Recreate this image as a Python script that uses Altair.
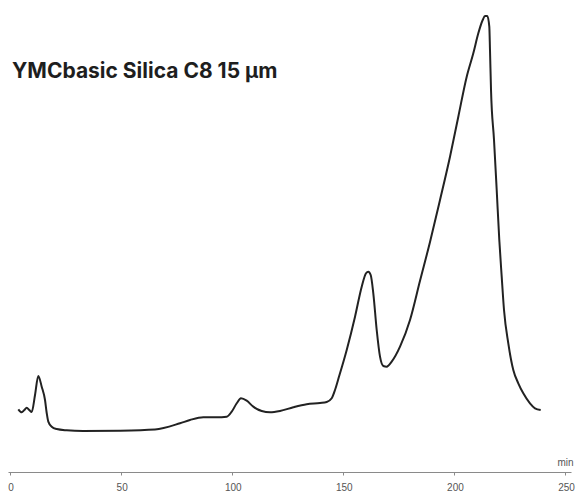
import altair as alt
import pandas as pd

# Retention time (min) and detector signal (arbitrary units)
time_min = [3.94, 5.47, 6.64, 7.72, 8.89, 9.97, 11.46, 12.94, 14.47, 15.96,
            16.72, 17.44, 18.97, 21.22, 25.72, 33.06, 49.71, 65.46, 76.72, 81.22,
            87.2, 93.24, 97.74, 99.99, 102.24, 104.17, 106.74, 109.71, 113.49, 117.23,
            121.73, 127.71, 133.74, 139.73, 142.75, 145.0, 146.48, 147.97, 151.75, 155.49,
            158.5, 160.44, 161.47, 162.55, 163.72, 165.25, 166.74, 168.22, 169.75, 172.0,
            175.74, 180.24, 184.74, 189.24, 193.74, 198.24, 201.98, 205.76, 208.73, 210.98,
            212.96, 213.99, 215.03, 215.93, 216.24, 216.7, 218.05, 219.26, 220.43, 221.51,
            222.55, 224.48, 226.73, 228.98, 231.23, 234.24, 236.49, 239.06]
signal = [5.68, 4.93, 5.5, 6.08, 5.5, 5.0, 9.25, 14.0, 11.33, 8.0,
          4.75, 2.58, 1.33, 0.75, 0.43, 0.25, 0.33, 0.63, 2.18, 3.0,
          3.68, 3.68, 3.83, 5.08, 7.18, 8.43, 7.83, 6.33, 5.25, 4.93,
          5.25, 6.18, 6.93, 7.25, 7.5, 8.43, 10.5, 13.25, 20.5, 28.83,
          36.33, 39.68, 40.08, 39.25, 34.68, 25.5, 18.83, 16.5, 16.33, 17.58,
          21.33, 28.0, 37.8, 47.5, 58.0, 68.83, 78.83, 88.83, 94.68, 99.68,
          103.0, 104.0, 104.0, 101.33, 95.5, 85.5, 73.0, 60.5, 48.0, 38.83,
          30.5, 22.18, 15.5, 12.18, 9.68, 7.18, 5.93, 5.5]
x_ticks = [0, 50, 100, 150, 200, 250]
title_text = "YMCbasic Silica C8 15 µm"

df = pd.DataFrame({"t": time_min, "s": signal})
ticks_df = pd.DataFrame({"t": x_ticks, "label": [str(v) for v in x_ticks]})

x_scale = alt.Scale(domain=[-0.7, 252.7], nice=False, zero=False)
y_scale = alt.Scale(domain=[-10, 108], nice=False, zero=False)

trace = alt.Chart(df).mark_line(
    color="#222222", strokeWidth=2, interpolate="monotone"
).encode(
    x=alt.X(
        "t:Q",
        scale=x_scale,
        axis=alt.Axis(
            values=x_ticks, title="min", grid=False, labels=False,
            domainColor="#8a8a8a", domainWidth=1.2,
            tickColor="#8a8a8a", tickSize=3, tickWidth=1,
            titleColor="#555555", titleFont="Liberation Sans", titleFontSize=10,
            titleFontWeight="normal", titleX=557, titleY=-7,
            titleAlign="center", titleBaseline="alphabetic",
        ),
    ),
    y=alt.Y("s:Q", scale=y_scale, axis=None),
)

# tick labels placed on the shared time scale
tick_labels = alt.Chart(ticks_df).mark_text(
    font="Liberation Sans", fontSize=10, color="#555555",
    align="center", baseline="middle", dx=1.5,
).encode(
    x=alt.X("t:Q", scale=x_scale),
    y=alt.value(488),
    text="label:N",
)

label = alt.Chart(pd.DataFrame({"label": [title_text]})).mark_text(
    align="left", baseline="alphabetic", font="Inter", fontWeight="bold",
    fontSize=21, color="#1e1e1e",
).encode(
    x=alt.value(4), y=alt.value(78), text="label:N"
)

chart = alt.layer(trace, tick_labels, label).properties(
    width=563, height=472,
    padding={"left": 8, "top": 0, "right": 8, "bottom": 22},
    autosize=alt.AutoSizeParams(type="none"),
).configure_view(stroke=None, clip=False)

chart.save("out.html", embed_options={"renderer": "svg", "actions": False})
